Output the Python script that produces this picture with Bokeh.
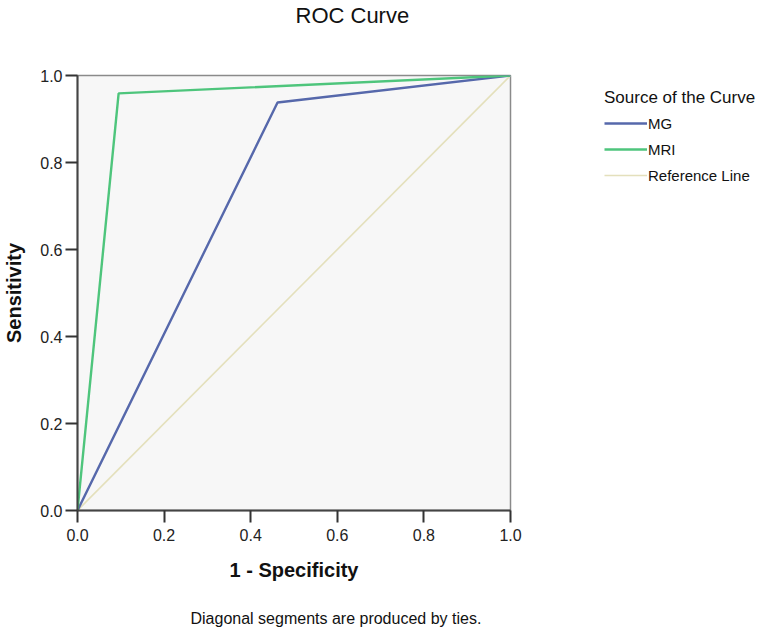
from bokeh.plotting import figure
from bokeh.models import Range1d, FixedTicker, Legend, LegendItem, Title, NumeralTickFormatter
from bokeh.embed import file_html
from bokeh.resources import INLINE

# data
mg_fpr = [0.0, 0.462, 1.0]
mg_tpr = [0.0, 0.938, 1.0]
mri_fpr = [0.0, 0.095, 1.0]
mri_tpr = [0.0, 0.959, 1.0]
ref_x = [0.0, 1.0]
ref_y = [0.0, 1.0]
ticks = [0.0, 0.2, 0.4, 0.6, 0.8, 1.0]
series_names = ["MG", "MRI", "Reference Line"]

FONT = "Liberation Sans"

p = figure(frame_width=433, frame_height=435, output_backend="svg", toolbar_location=None,
           x_range=Range1d(0, 1), y_range=Range1d(0, 1),
           min_border_left=69, min_border_right=253, min_border_top=75, min_border_bottom=118)

p.background_fill_color = "#f7f7f7"
p.border_fill_color = "white"
p.outline_line_color = "#8a8a8a"
p.outline_line_width = 1.5
p.xgrid.visible = False
p.ygrid.visible = False

r_ref = p.line(ref_x, ref_y, line_color="#e4e0bc", line_width=1.6)
r_mg = p.line(mg_fpr, mg_tpr, line_color="#5668ab", line_width=2.4)
r_mri = p.line(mri_fpr, mri_tpr, line_color="#4ec57c", line_width=2.4)

for ax in (p.xaxis[0], p.yaxis[0]):
    ax.ticker = FixedTicker(ticks=ticks)
    ax.formatter = NumeralTickFormatter(format="0.0")
    ax.minor_tick_line_color = None
    ax.major_tick_in = 0
    ax.major_tick_out = 12
    ax.major_tick_line_width = 2
    ax.major_tick_line_color = "#333333"
    ax.axis_line_width = 2
    ax.axis_line_color = "#444444"
    ax.major_label_text_font = FONT
    ax.major_label_text_font_size = "16px"
    ax.major_label_text_color = "#222222"
    ax.axis_label_text_font = FONT
    ax.axis_label_text_font_size = "20px"
    ax.axis_label_text_font_style = "bold"
    ax.axis_label_text_color = "#111111"

p.xaxis.axis_label = "1 - Specificity"
p.yaxis.axis_label = "Sensitivity"
p.xaxis.major_label_standoff = 6
p.yaxis.major_label_standoff = 3
p.xaxis.axis_label_standoff = 15
p.yaxis.axis_label_standoff = 12

p.title.text = "ROC Curve"
p.title.align = "left"
p.title.offset = 218
p.title.text_font = FONT
p.title.text_font_size = "22px"
p.title.text_font_style = "normal"
p.title.text_color = "#111111"
p.title.standoff = 0

# empty spacer between the title and the frame
spacer_above = Title(text=" ", text_font=FONT, text_font_size="41px", standoff=0)
p.add_layout(spacer_above, "above")

spacer_below = Title(text=" ", text_font=FONT, text_font_size="20px", standoff=0)
p.add_layout(spacer_below, "below")
foot = Title(text="Diagonal segments are produced by ties.", align="left", offset=113,
             text_font=FONT, text_font_size="16px", text_font_style="normal",
             text_color="#111111", standoff=0)
p.add_layout(foot, "below")

legend = Legend(items=[LegendItem(label=series_names[0], renderers=[r_mg]),
                       LegendItem(label=series_names[1], renderers=[r_mri]),
                       LegendItem(label=series_names[2], renderers=[r_ref])],
                location=(94, 322), title="Source of the Curve",
                title_text_font=FONT, title_text_font_size="17px", title_text_font_style="normal",
                title_text_color="#111111", title_standoff=2,
                label_text_font=FONT, label_text_font_size="15px", label_text_color="#111111",
                glyph_width=43, glyph_height=26, label_height=26, label_standoff=1,
                spacing=0, padding=0, margin=0,
                border_line_color=None, background_fill_alpha=0)
p.add_layout(legend, "right")

open("out.html", "w").write(file_html(p, INLINE))
